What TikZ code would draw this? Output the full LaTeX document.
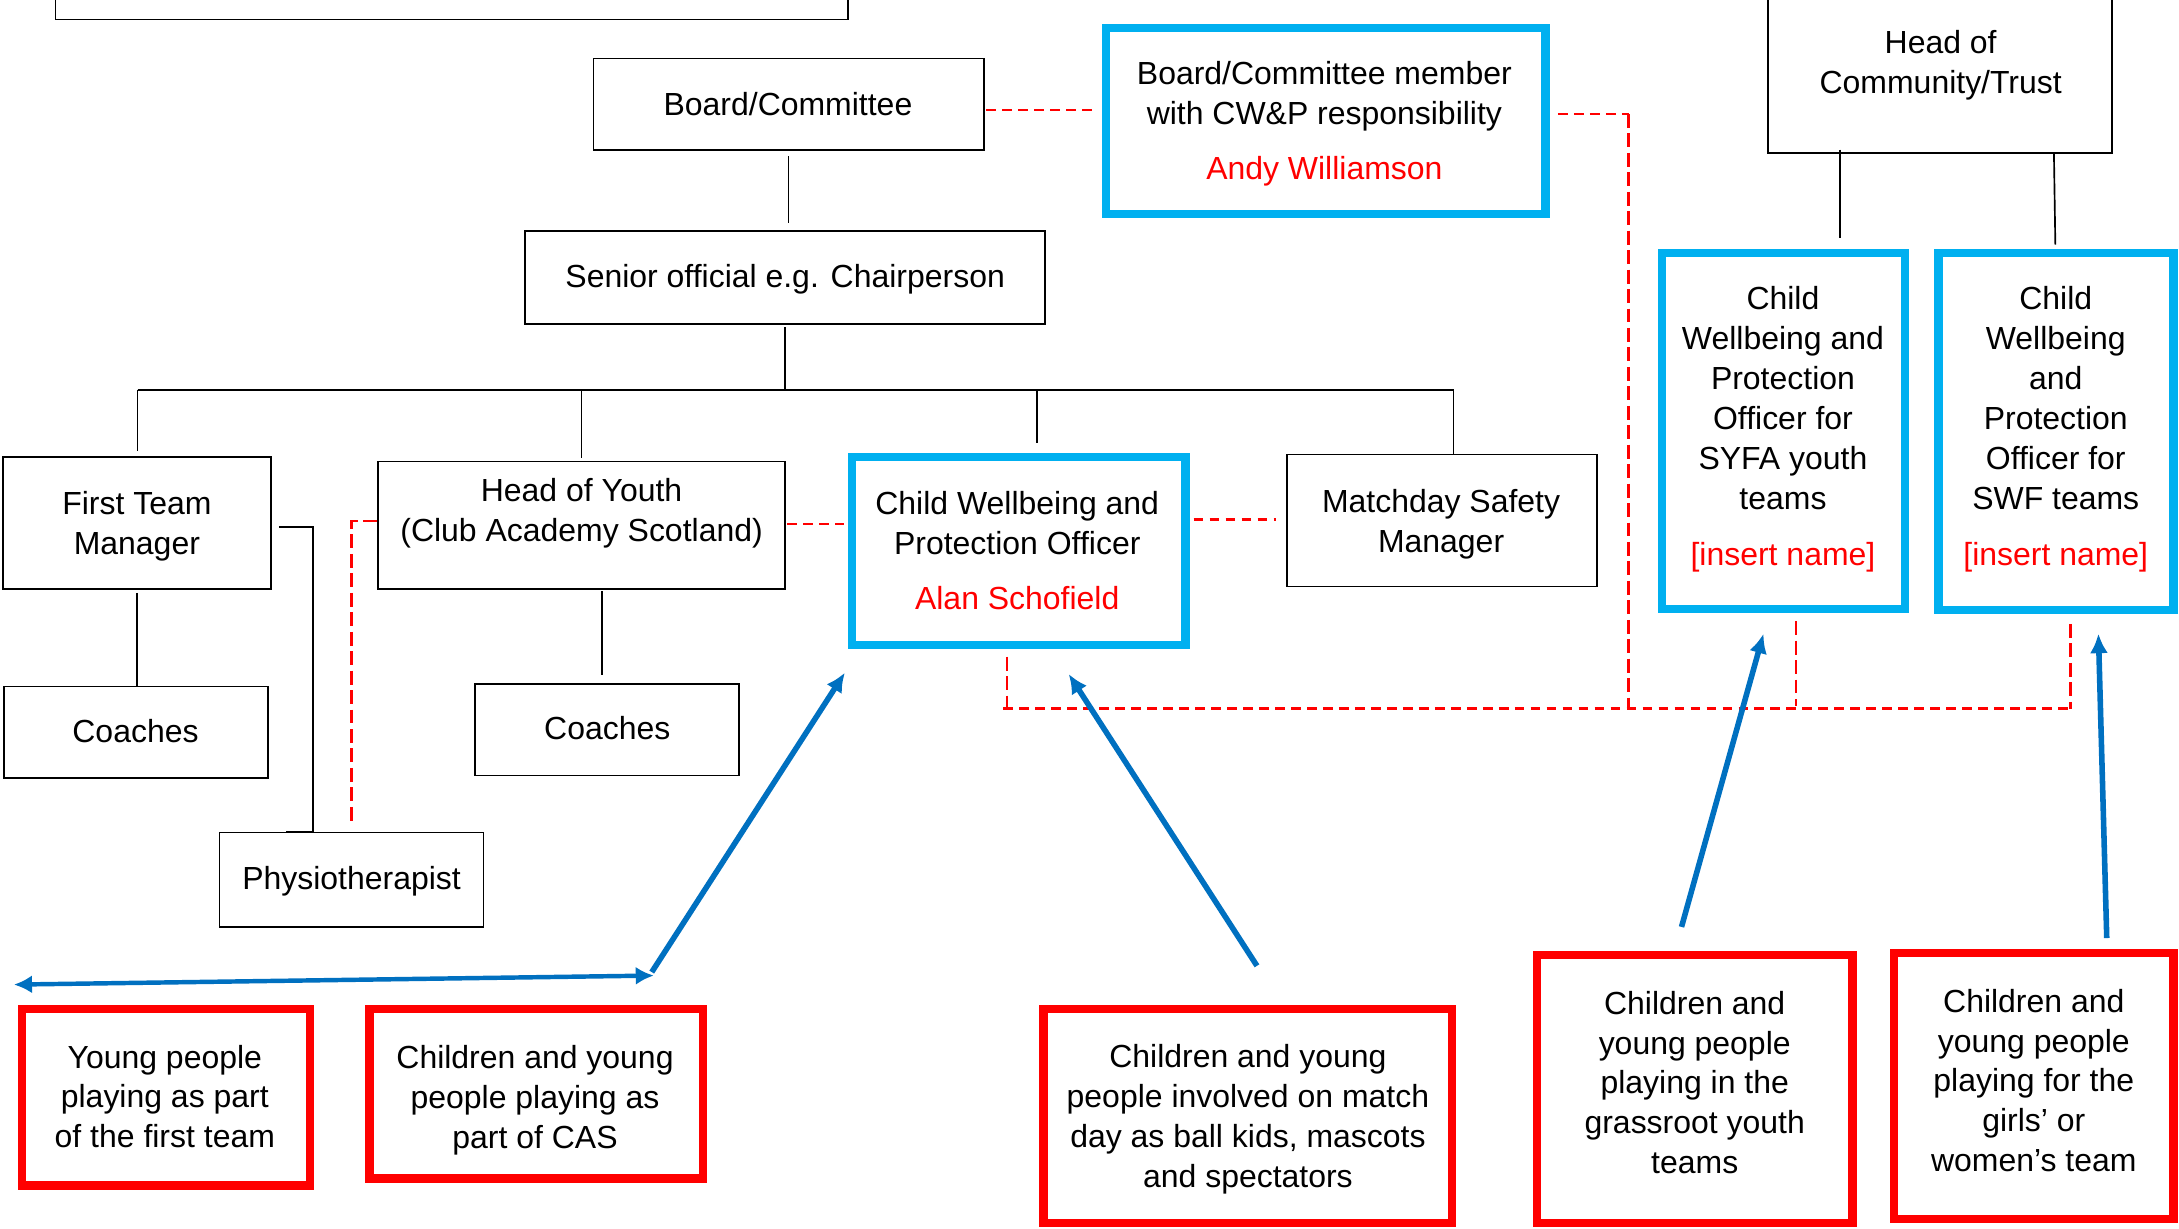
\documentclass[tikz,border=0pt]{standalone}
\usepackage{fontspec}
\setmainfont{Liberation Sans}
\usetikzlibrary{arrows.meta,calc}
\definecolor{cwblue}{HTML}{00B0F0}
\definecolor{arblue}{HTML}{0070C0}
\definecolor{cwred}{HTML}{FF0000}
\begin{document}
\begin{tikzpicture}[x=1pt,y=-1pt,
  box/.style={draw=black,line width=1.2pt,inner sep=0pt},
  bluebox/.style={draw=cwblue,line width=6pt,inner sep=0pt},
  redbox/.style={draw=cwred,line width=6pt,inner sep=0pt},
  txt/.style={inner sep=0pt,align=center,font=\fontsize{23pt}{28.7pt}\selectfont},
  conn/.style={draw=black,line width=1.2pt},
  rdh/.style={draw=cwred,line width=1.8pt,dash pattern=on 7pt off 4.5pt},
  rdv/.style={draw=cwred,line width=1.8pt,dash pattern=on 10pt off 4pt},
  barrow/.style={draw=arblue,line width=4pt,-{Latex[length=14pt,width=13pt]}},
  dblarrow/.style={draw=arblue,line width=3.2pt,{Latex[length=13pt,width=13pt]}-{Latex[length=13pt,width=13pt]}},
]
\useasboundingbox (0,0) rectangle (1568,884);
\fill[white] (0,0) rectangle (1568,884);

% ---------- boxes ----------
\node[box,minimum width=570pt,minimum height=44pt] (topbox) at (325,-8) {};
\node[box,minimum width=281pt,minimum height=66pt] (board) at (567.5,75) {};
\node[box,minimum width=374pt,minimum height=67pt] (senior) at (565,199.5) {};
\node[bluebox,minimum width=316pt,minimum height=134pt] (cwpm) at (954,87) {};
\node[box,minimum width=193pt,minimum height=95pt] (ftm) at (98.5,376.5) {};
\node[box,minimum width=293pt,minimum height=92pt] (hoy) at (418.5,378) {};
\node[bluebox,minimum width=240pt,minimum height=135pt] (cwpo) at (733,396.5) {};
\node[box,minimum width=223pt,minimum height=95pt] (mds) at (1037.5,374.5) {};
\node[box,minimum width=190pt,minimum height=66pt] (coachesL) at (98,527) {};
\node[box,minimum width=190pt,minimum height=66pt] (coachesM) at (437,525) {};
\node[box,minimum width=190pt,minimum height=68pt] (physio) at (253,633) {};
\node[box,minimum width=248pt,minimum height=140pt] (hoc) at (1396,40) {};
\node[bluebox,minimum width=175pt,minimum height=256pt] (syfa) at (1283.5,310) {};
\node[bluebox,minimum width=169pt,minimum height=257pt] (swf) at (1479.5,310.5) {};
\node[redbox,minimum width=207pt,minimum height=127pt] (ypft) at (119.5,789.5) {};
\node[redbox,minimum width=240pt,minimum height=122pt] (cas) at (386,787) {};
\node[redbox,minimum width=294pt,minimum height=154pt] (mdk) at (898,803) {};
\node[redbox,minimum width=227pt,minimum height=193pt] (grass) at (1219.5,783.5) {};
\node[redbox,minimum width=201pt,minimum height=191pt] (girls) at (1463.5,781.5) {};

% ---------- texts ----------
\node[txt] (boardT) at (567,75) {Board/Committee};
\node[txt] (seniorT) at (565,201) {Senior official e.g. Chairperson};
\node[txt] (cwpmT) at (953,89) {Board/Committee member\\with CW\&P responsibility\\[11pt]\textcolor{cwred}{Andy Williamson}};
\node[txt] (hocT) at (1396.5,47) {Head of\\Community/Trust};
\node[txt] (ftmT) at (98.5,378.5) {First Team\\Manager};
\node[txt] (hoyT) at (418.5,369.3) {Head of Youth\\(Club Academy Scotland)};
\node[txt] (cwpoT) at (732,396.5) {Child Wellbeing and\\Protection Officer\\[11pt]\textcolor{cwred}{Alan Schofield}};
\node[txt] (mdsT) at (1037,377) {Matchday Safety\\Manager};
\node[txt] (coachesLT) at (97.5,526) {Coaches};
\node[txt] (coachesMT) at (437,524) {Coaches};
\node[txt] (physioT) at (253,634.3) {Physiotherapist};
\node[txt] (syfaT) at (1283,309) {Child\\Wellbeing and\\Protection\\Officer for\\SYFA youth\\teams\\[12pt]\textcolor{cwred}{[insert name]}};
\node[txt] (swfT) at (1479.3,309) {Child\\Wellbeing\\and\\Protection\\Officer for\\SWF teams\\[12pt]\textcolor{cwred}{[insert name]}};
\node[txt] (ypftT) at (118.6,789) {Young people\\playing as part\\of the first team};
\node[txt] (casT) at (385,791.5) {Children and young\\people playing as\\part of CAS};
\node[txt] (mdkT) at (898,805.6) {Children and young\\people involved on match\\day as ball kids, mascots\\and spectators};
\node[txt] (grassT) at (1219.5,779) {Children and\\young people\\playing in the\\grassroot youth\\teams};
\node[txt] (girlsT) at (1463.5,777.5) {Children and\\young people\\playing for the\\girls’ or\\women’s team};

% ---------- hierarchy connectors ----------
\coordinate (busL) at (99,280.5);
\coordinate (busR) at (1046,280.5);
\draw[conn] ([yshift=-4pt]board.south) -- ([yshift=5pt]board.south |- senior.north);
\draw[conn] ([yshift=-2pt]senior.south) -- (senior.south |- busL);
\draw[conn,line width=1.6pt] (busL) -- (busR);
\draw[conn] (busL) -- ([yshift=4pt]busL |- ftm.north);
\draw[conn] (hoy.north |- busL) -- ([yshift=2pt]hoy.north);
\draw[conn] ($(cwpo.north |- busL)+(13,0)$) -- ($(cwpo.north)+(13,-7)$);
\draw[conn] (busR) -- (busR |- mds.north);
\draw[conn] ([yshift=-2pt]ftm.south) -- (ftm.south |- coachesL.north);
\draw[conn] ($(hoy.south)+(14.5,1)$) -- ($(hoy.south |- coachesM.north)+(14.5,-6)$);
\draw[conn] ($(ftm.east)+(5,2.5)$) -| ($(physio.north)+(-28,0)$) -- ++(-19,0);
\draw[conn] ($(hoc.south)+(-72,-3)$) -- ($(hoc.south |- syfa.north)+(-72,-8)$);
\draw[conn] ($(hoc.south)+(82,0)$) -- ($(hoc.south |- swf.north)+(83,-3)$);

% ---------- red dashed links ----------
\draw[rdv] ($(hoy.west)+(0,-3)$) -| ($(physio.north)+(0,-5)$);
\draw[rdh] ($(hoy.east)+(1,-1)$) -- ($(hoy.east -| cwpo.west)+(-3,-1)$);
\draw[rdh] ($(cwpo.east |- mds.west)+(3,-0.5)$) -- ($(mds.west)+(-7,-0.5)$);
\draw[rdh] ($(board.east)+(1,4)$) -- ($(board.east -| cwpm.west)+(-3,4)$);
\coordinate (cwpmcorner) at ($(cwpm.east)+(57,-5)$);
\coordinate (redbusL) at (722,510);
\coordinate (redbusR) at (1491,510);
\draw[rdh] ($(cwpm.east)+(6,-5)$) -- (cwpmcorner);
\draw[rdv] (cwpmcorner) -- (cwpmcorner |- redbusL);
\draw[rdv] ($(cwpo.south)+(-8.5,5.5)$) -- ($(cwpo.south |- redbusL)+(-8.5,0)$);
\draw[rdh] (redbusL) -- (redbusR);
\draw[rdv] ($(syfa.south)+(9,6)$) -- ($(syfa.south |- redbusL)+(9,-2)$);
\draw[rdv] ($(swf.south)+(10.5,7)$) -- ($(swf.south |- redbusR)+(10.5,0)$);

% ---------- blue arrows ----------
\coordinate (dblL) at (10,708.5);
\coordinate (dblR) at (470.5,702);
\draw[dblarrow] (dblL) -- (dblR);
\coordinate (casTail) at (469,699.5);
\draw[barrow] (casTail) -- ($(cwpo.south west)+(-2,17)$);
\draw[barrow] ($(mdk.north)+(6.5,-28)$) -- ($(cwpo.south)+(36,18)$);
\draw[barrow] ($(grass.north)+(-9.5,-17)$) -- ($(syfa.south)+(-14.5,15)$);
\draw[barrow] ($(girls.north)+(52.5,-8)$) -- ($(swf.south)+(30.5,14)$);
\end{tikzpicture}
\end{document}
